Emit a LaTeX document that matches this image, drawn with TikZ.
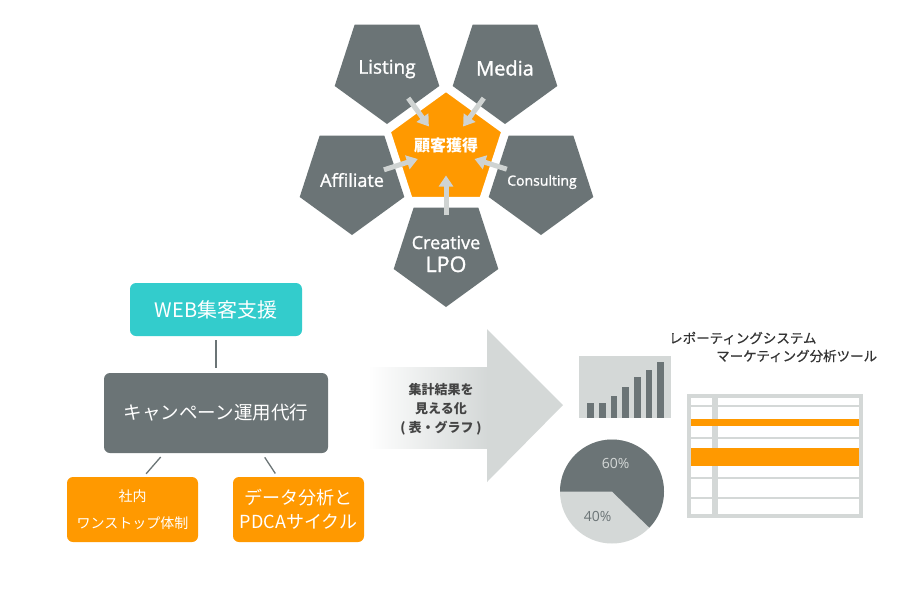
\documentclass[tikz,border=0pt]{standalone}
\usepackage{fontspec}
\setmainfont{Noto Sans CJK JP}
\newfontfamily\latf{Open Sans}
\newfontfamily\latm{Open Sans}[FakeBold=1.3]
\newfontfamily\jpm{Noto Sans CJK JP}[FakeBold=0.5]
\usetikzlibrary{shapes.geometric,arrows.meta,calc}
\definecolor{dgray}{HTML}{6B7476}
\definecolor{lgray}{HTML}{D4D8D7}
\definecolor{agray}{HTML}{CFD3D2}
\definecolor{orng}{HTML}{FF9900}
\definecolor{teal}{HTML}{33CCCC}
\definecolor{txt}{HTML}{333333}
\definecolor{vtxt}{HTML}{444444}
\newcommand{\fs}[2]{\fontsize{#1}{#2}\selectfont}
\begin{document}
\begin{tikzpicture}[x=1pt,y=-1pt,
  gpent/.style={regular polygon, regular polygon sides=5, shape border rotate=180,
    minimum size=110pt, inner sep=0pt, fill=dgray},
  plabel/.style={text=white, align=center, inner sep=0pt},
  inarrow/.style={draw=agray, line width=5pt, -{Triangle[width=14pt,length=11pt]}},
  box/.style={rounded corners=6pt, text=white, align=center, inner sep=0pt},
  conn/.style={draw=dgray, line width=1.3pt},
  bar/.style={fill=dgray},
  rowline/.style={draw=lgray, line width=2pt}
]
\useasboundingbox (0,0) rectangle (900,600);
\fill[white] (0,0) rectangle (900,600);

% ---- pentagon cluster ----
\node[gpent] (listing) at (387,69) {};
\node[gpent] (media) at (505,69) {};
\node[gpent] (affil) at (352,180) {};
\node[gpent] (consult) at (541,180) {};
\node[gpent] (creative) at (446,252) {};
\node[regular polygon, regular polygon sides=5, minimum size=123pt, inner sep=0pt,
  fill=orng, draw=white, line width=6pt] (core) at (446,150) {};

\node[plabel, font=\latm\fs{19}{19}] (tlisting) at (listing.center) {Listing};
\node[plabel, font=\latm\fs{20}{20}] (tmedia) at ([yshift=1pt]media.center) {Media};
\node[plabel, font=\latm\fs{18}{18}] (taffil) at (affil.center) {Affiliate};
\node[plabel, font=\latm\fs{14}{14}] (tconsult) at ([xshift=1pt,yshift=-2pt]consult.center) {Consulting};
\node[plabel, font=\latm\fs{18}{23}] (tcreative) at ([yshift=-2pt]creative.center) {Creative\\{\fs{21.5}{23}LPO}};
\node[text=white, font=\bfseries\fs{16}{16}, inner sep=0pt] (tcore) at (446,145) {顧客獲得};

\draw[inarrow] ($(core.center)!0.64!(listing.center)$) -- ($(core.center)!0.29!(listing.center)$);
\draw[inarrow] ($(core.center)!0.64!(media.center)$) -- ($(core.center)!0.29!(media.center)$);
\draw[inarrow] ($(core.center)!0.66!(affil.center)$) -- ($(core.center)!0.30!(affil.center)$);
\draw[inarrow] ($(core.center)!0.64!(consult.center)$) -- ($(core.center)!0.30!(consult.center)$);
\draw[inarrow] ($(core.center)!0.64!(creative.center)$) -- ($(core.center)!0.25!(creative.center)$);

% ---- left hierarchy ----
\node[box, fill=teal, minimum width=172pt, minimum height=53pt, font=\fs{20}{20}] (web) at (216,309.5) {WEB集客支援};
\node[box, fill=dgray, minimum width=224pt, minimum height=80pt, font=\fs{18.5}{18.5}] (camp) at (216,413) {キャンペーン運用代行};
\node[box, fill=orng, minimum width=131pt, minimum height=65pt, font=\fs{14}{27}] (inhouse) at (132.5,509.5) {社内\\ワンストップ体制};
\node[box, fill=orng, minimum width=131pt, minimum height=65pt, font=\fs{18}{24}] (pdca) at (298.5,509.5) {データ分析と\\PDCAサイクル};

\draw[conn, shorten <=4pt, shorten >=5pt] (web.south) -- (camp.north);
\draw[conn, shorten <=5pt, shorten >=4pt] ([xshift=-52pt]camp.south) -- ([xshift=11pt]inhouse.north);
\draw[conn, shorten <=5pt, shorten >=4pt] ([xshift=46pt]camp.south) -- ([xshift=-21pt]pdca.north);

% ---- big arrow ----
\fill[left color=white, right color=lgray] (368,367) rectangle (487.5,448);
\fill[lgray] (487,329) -- (563,405) -- (487,482) -- cycle;
\node[align=center, text=vtxt, font=\bfseries\fs{13}{19}, inner sep=0pt] (vis) at (441,409) {集計結果を\\見える化\\( 表・グラフ )};

% ---- titles ----
\node[anchor=west, text=txt, font=\jpm\fs{13.5}{14}, inner sep=0pt] (rep) at (669,338) {レポーティングシステム};
\node[anchor=west, text=txt, font=\jpm\fs{13.5}{14}, inner sep=0pt] (mkt) at (716,356) {マーケティング分析ツール};

% ---- bar chart ----
\fill[lgray] (579,356) rectangle (671,418);
\fill[bar] (587.3,403.3) rectangle (594,418);
\fill[bar] (599,403.3) rectangle (605.7,418);
\fill[bar] (610.7,395.7) rectangle (617.3,418);
\fill[bar] (622.3,387.3) rectangle (629,418);
\fill[bar] (634,377.3) rectangle (640.7,418);
\fill[bar] (645.7,370) rectangle (652.3,418);
\fill[bar] (657.3,361.7) rectangle (664,418);

% ---- pie ----
\coordinate (pc) at (612,491.5);
\fill[lgray] (pc) circle[radius=52pt];
\fill[dgray] (pc) -- ++(180:52pt) arc[start angle=180, end angle=-44, radius=52pt] -- cycle;
\node[text=lgray, font=\latf\fs{14}{14}, inner sep=0pt] (p60) at (615.7,463.3) {60\%};
\node[text=dgray, font=\latf\fs{14}{14}, inner sep=0pt] (p40) at (597.7,516.7) {40\%};

% ---- table ----
\draw[lgray, line width=4pt] (689,396.3) rectangle (860.7,516.3);
\fill[lgray] (711.7,398) rectangle (718.3,514);
\draw[rowline] (691,405.7) -- (858.7,405.7);
\draw[rowline] (691,437.7) -- (858.7,437.7);
\draw[rowline] (691,478.3) -- (858.7,478.3);
\draw[rowline] (691,497.7) -- (858.7,497.7);
\fill[orng] (691,419) rectangle (858.7,425.7);
\fill[orng] (691,447.7) rectangle (858.7,466);
\end{tikzpicture}
\end{document}
